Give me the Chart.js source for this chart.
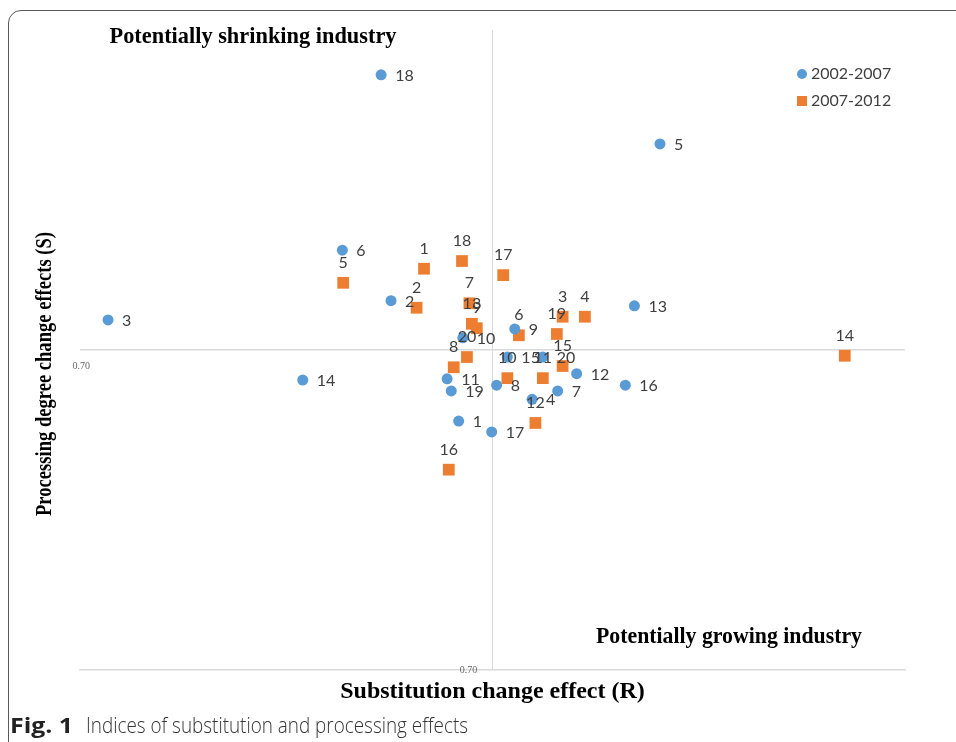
<!DOCTYPE html>
<html>
<head>
<meta charset="utf-8">
<script src="https://cdn.jsdelivr.net/npm/chart.js@4/dist/chart.umd.min.js"></script>
<style>
  html, body { margin: 0; padding: 0; background: #fff; overflow: hidden; }
  #wrap { position: absolute; left: 0; top: 0; width: 956px; height: 742px; }
  #frame { position: absolute; left: 8px; top: 10px; width: 1000px; height: 800px;
           border: 1.5px solid #5a5a5a; border-radius: 13px; }
  .cap { position: absolute; top: 713px; font-family: "Open Sans", sans-serif; font-size: 22px;
         line-height: 22px; white-space: nowrap; transform-origin: 0 0; color: #333; }
  #fig { left: 10px; font-weight: bold; color: #222; }
  #txt { left: 86px; font-weight: 300; }
</style>
</head>
<body>
<div id="frame"></div>
<div id="wrap"><canvas id="myChart"></canvas></div>
<span class="cap" id="fig">Fig. 1</span>
<span class="cap" id="txt">Indices of substitution and processing effects</span>
<script>
// industry numbers (labels of the points)
var industries = [1, 2, 3, 4, 5, 6, 7, 8, 9, 10, 11, 12, 13, 14, 15, 16, 17, 18, 19, 20];

// 2002-2007: substitution change effect (R) and processing degree change effect (S)
var r0207 = [0.659, 0.577, 0.234, 0.748, 0.903, 0.518, 0.779, 0.705, 0.727, 0.664,
             0.645, 0.802, 0.872, 0.470, 0.718, 0.861, 0.699, 0.565, 0.650, 0.761];
var s0207 = [0.589, 0.777, 0.747, 0.623, 1.022, 0.856, 0.636, 0.645, 0.733, 0.719,
             0.655, 0.663, 0.769, 0.653, 0.689, 0.645, 0.572, 1.130, 0.636, 0.689];

// 2007-2012
var r0712 = [0.617, 0.608, 0.785, 0.812, 0.519, 0.732, 0.672, 0.653, 0.681, 0.718,
             0.761, 0.752, 0.675, 1.127, 0.785, 0.647, 0.713, 0.663, 0.778, 0.669];
var s0712 = [0.827, 0.766, 0.752, 0.752, 0.805, 0.723, 0.773, 0.673, 0.734, 0.656,
             0.656, 0.586, 0.741, 0.691, 0.675, 0.513, 0.817, 0.839, 0.725, 0.689];

// axes cross at these values
var xTicks = [0.70];
var yTicks = [0.70];

var blue = '#5b9bd5';
var orange = '#ed7d31';

function toPoints(xs, ys) {
  return xs.map(function(v, i) { return {x: v, y: ys[i]}; });
}

// squeeze the caption pieces to the width they have in the figure
function fitCaption(id, w) {
  var el = document.getElementById(id);
  var real = el.getBoundingClientRect().width;
  el.style.transform = 'scaleX(' + (w / real) + ')';
}
fitCaption('fig', 63);
fitCaption('txt', 382);

var annotations = {
  id: 'annotations',
  afterDatasetsDraw: function(chart) {
    var ctx = chart.ctx;
    var xs = chart.scales.x, ys = chart.scales.y;
    ctx.save();

    // the two 0.70 tick labels, placed like in the original
    ctx.font = '10px "Liberation Serif", serif';
    ctx.fillStyle = '#666';
    ctx.textBaseline = 'middle';
    ctx.textAlign = 'right';
    ctx.fillText(yTicks[0].toFixed(2), xs.left + 10, ys.getPixelForValue(yTicks[0]) + 16);
    ctx.textAlign = 'center';
    ctx.fillText(xTicks[0].toFixed(2), xs.getPixelForValue(xTicks[0]) - 24, ys.bottom);

    // point labels
    ctx.font = '16px Lato, "Liberation Sans", sans-serif';
    ctx.fillStyle = '#404040';
    chart.getDatasetMeta(0).data.forEach(function(el, i) {
      ctx.textAlign = 'left';
      ctx.fillText(String(industries[i]), el.x + 14, el.y + 1);
    });
    chart.getDatasetMeta(1).data.forEach(function(el, i) {
      ctx.textAlign = 'center';
      ctx.fillText(String(industries[i]), el.x, el.y - 20);
    });

    // legend
    ctx.textAlign = 'left';
    ctx.fillStyle = blue;
    ctx.beginPath();
    ctx.arc(802, 74, 5, 0, Math.PI * 2);
    ctx.fill();
    ctx.fillStyle = orange;
    ctx.fillRect(797, 96, 10, 10);
    ctx.fillStyle = '#404040';
    ctx.fillText(chart.data.datasets[0].label, 811, 74);
    ctx.fillText(chart.data.datasets[1].label, 811, 101);

    // quadrant labels
    ctx.fillStyle = '#000';
    ctx.font = 'bold 23px "Liberation Serif", serif';
    ctx.textAlign = 'center';
    ctx.fillText('Potentially shrinking industry', 253, 37, 287);
    ctx.fillText('Potentially growing industry', 729, 637, 266);

    // y axis title
    ctx.translate(45, 374);
    ctx.rotate(-Math.PI / 2);
    ctx.fillText('Processing degree change effects (S)', 0, 0, 284);
    ctx.restore();
  }
};

new Chart('myChart', {
  type: 'scatter',
  data: {
    datasets: [{
      label: '2002-2007',
      data: toPoints(r0207, s0207),
      backgroundColor: blue,
      borderWidth: 0,
      pointStyle: 'circle',
      pointRadius: 5.5,
      pointHoverRadius: 5.5
    },
    {
      label: '2007-2012',
      data: toPoints(r0712, s0712),
      backgroundColor: orange,
      borderWidth: 0,
      pointStyle: 'rect',
      pointRadius: 8.3,
      pointHoverRadius: 8.3
    }]
  },
  options: {
    responsive: true,
    maintainAspectRatio: false,
    animation: false,
    layout: { padding: { top: 30, right: 51, left: 0, bottom: 0 } },
    plugins: {
      legend: { display: false },
      tooltip: { enabled: false }
    },
    scales: {
      x: {
        type: 'linear',
        min: 0.20,
        max: 1.20,
        afterBuildTicks: function(scale) {
          scale.ticks = xTicks.map(function(v) { return {value: v}; });
        },
        afterFit: function(scale) { scale.height = 72; },
        grid: { color: '#d9d9d9', lineWidth: 1, drawTicks: false },
        border: { display: true, color: '#d9d9d9', width: 1.5 },
        ticks: { display: false },
        title: {
          display: true,
          text: 'Substitution change effect (R)',
          color: '#000',
          font: { family: '"Liberation Serif", serif', size: 24, weight: 'bold' },
          padding: { top: 0, bottom: 36 }
        }
      },
      y: {
        type: 'linear',
        min: 0.20,
        max: 1.20,
        afterBuildTicks: function(scale) {
          scale.ticks = yTicks.map(function(v) { return {value: v}; });
        },
        afterFit: function(scale) { scale.width = 80; },
        grid: { color: '#d9d9d9', lineWidth: 1.5, drawTicks: false },
        border: { display: false },
        ticks: { display: false }
      }
    }
  },
  plugins: [annotations]
});
</script>
</body>
</html>
